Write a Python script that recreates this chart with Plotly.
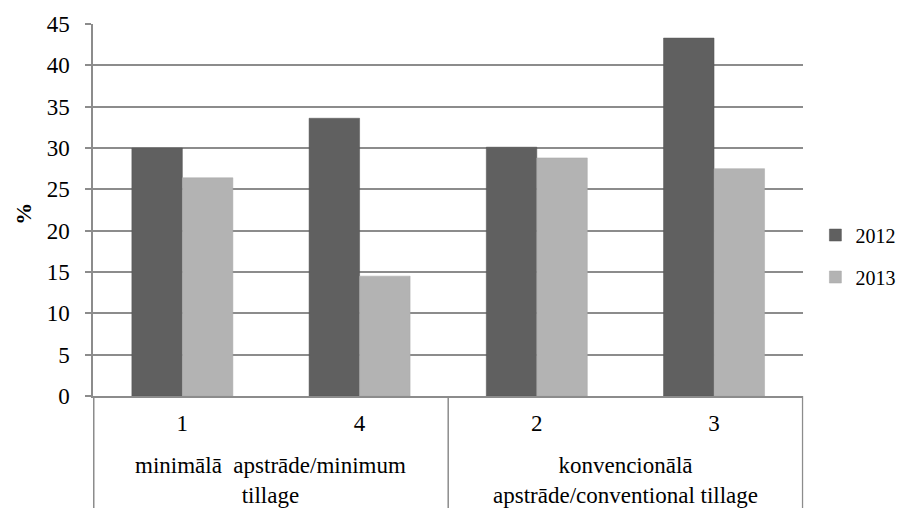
import plotly.graph_objects as go

categories = ["1", "4", "2", "3"]
groups = ["minimālā&nbsp;&nbsp;apstrāde/minimum<br>tillage", "konvencionālā<br>apstrāde/conventional tillage"]
series_2012 = [30.0, 33.6, 30.1, 43.3]
series_2013 = [26.4, 14.5, 28.8, 27.5]
y_ticks = [0, 5, 10, 15, 20, 25, 30, 35, 40, 45]

FONT = "Liberation Serif, 'Times New Roman', 'DejaVu Serif', serif"
GRID = "#8c8c8c"

fig = go.Figure()
fig.add_trace(go.Bar(x=categories, y=series_2012, name="2012", marker_color="#606060",
                     marker_line_color="#555555", marker_line_width=0.5, legendgroup="a"))
fig.add_trace(go.Bar(x=categories, y=series_2013, name="2013", marker_color="#b3b3b3",
                     marker_line_color="#a8a8a8", marker_line_width=0.5, legendgroup="b"))

fig.update_layout(
    width=906, height=508,
    margin=dict(l=93, r=93, t=23, b=112),
    paper_bgcolor="white", plot_bgcolor="white",
    barmode="group", bargap=0.43, bargroupgap=0,
    font=dict(family=FONT, size=22, color="black"),
    legend=dict(xref="container", yref="container", x=0.9, xanchor="left",
                y=0.496, yanchor="middle",
                font=dict(family=FONT, size=20), tracegroupgap=13,
                itemwidth=30, bgcolor="rgba(0,0,0,0)"),
    showlegend=True,
)
fig.update_xaxes(type="category", categoryorder="array", categoryarray=categories,
                 showgrid=False, showline=True, linecolor=GRID, linewidth=1.5,
                 ticks="", tickfont=dict(family=FONT, size=23), ticklabelstandoff=6)
fig.update_yaxes(range=[0, 45], tickvals=y_ticks, showgrid=True, gridcolor=GRID, gridwidth=1.5,
                 showline=True, linecolor=GRID, linewidth=1.5, ticks="outside", ticklen=6,
                 tickcolor=GRID, tickwidth=1.5, zeroline=False,
                 tickfont=dict(family=FONT, size=23), ticklabelstandoff=11)

# y-axis title
fig.add_annotation(text="<b>%</b>", xref="paper", yref="paper", x=-0.097, y=0.49,
                   xanchor="center", yanchor="middle", textangle=-90, showarrow=False,
                   font=dict(family=FONT, size=22))

# group divider lines
for xpos in [-0.5, 1.5, 3.5]:
    fig.add_shape(type="line", xref="x", yref="paper", x0=xpos, x1=xpos, y0=0, y1=-0.32,
                  line=dict(color=GRID, width=1.5))

# group labels
for i, g in enumerate(groups):
    fig.add_annotation(text=g, xref="x", yref="paper", x=0.5 + 2 * i, y=-0.147,
                       yanchor="top", showarrow=False, align="center",
                       font=dict(family=FONT, size=23))

fig.write_html("out.html", config={"displayModeBar": False},
               post_script="document.body.style.margin='0px';")
